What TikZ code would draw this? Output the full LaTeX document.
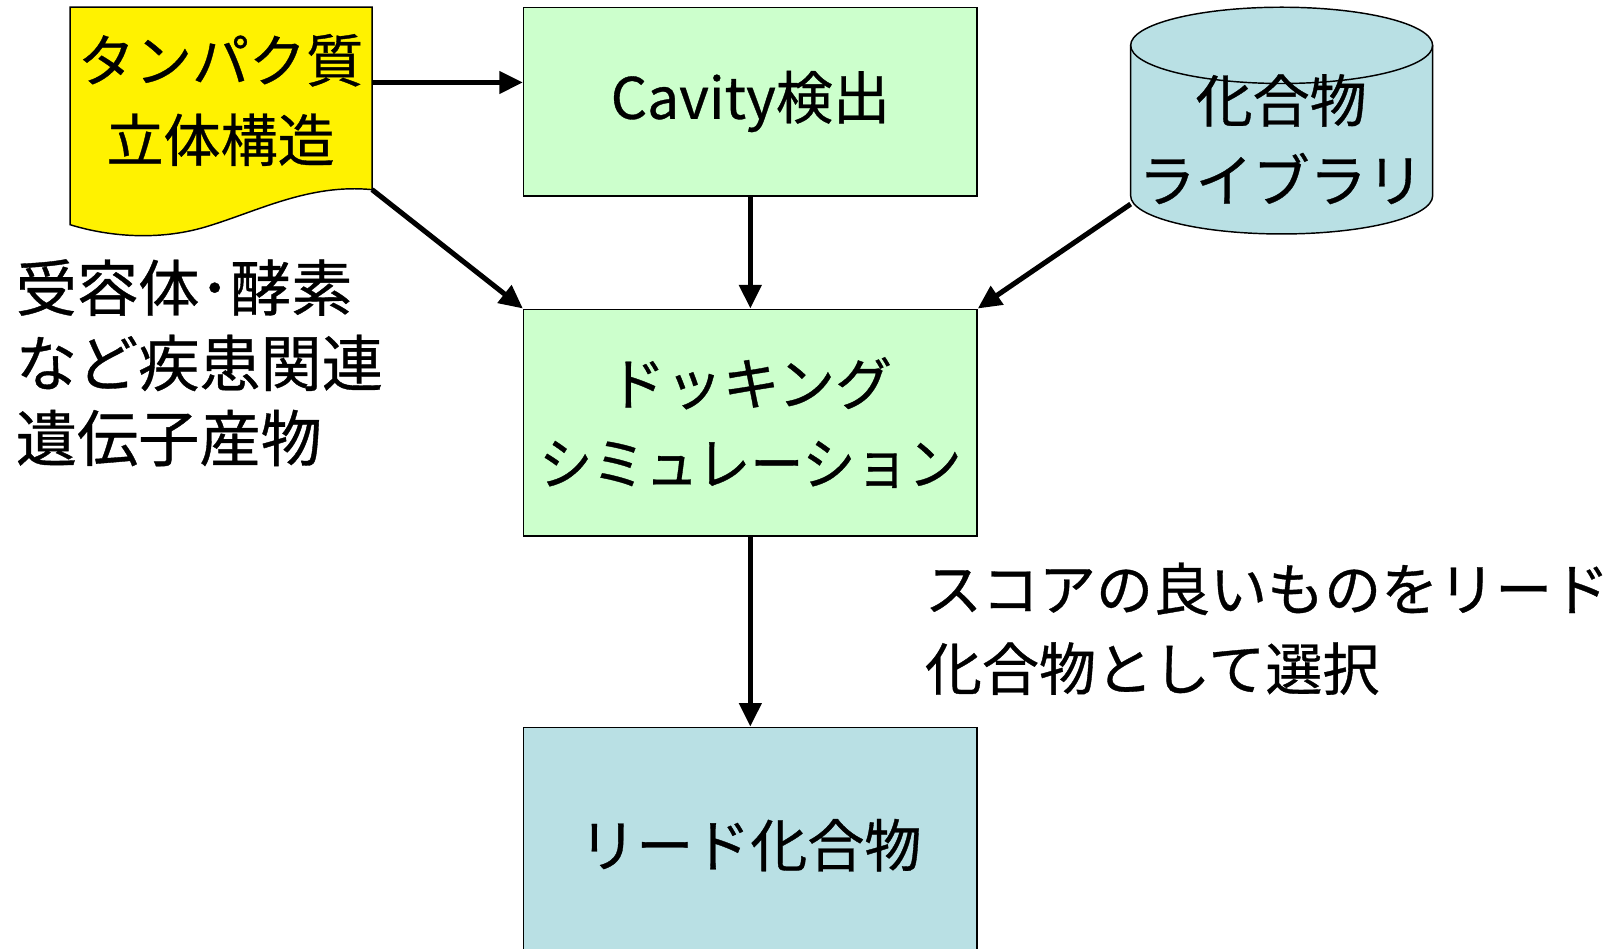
\documentclass[tikz,border=0pt]{standalone}
\usepackage{fontspec}
\setmainfont{Noto Sans CJK JP}[FakeBold=0.6]
\usetikzlibrary{arrows.meta,positioning}
\definecolor{boxgreen}{RGB}{204,255,204}
\definecolor{boxblue}{RGB}{185,224,228}
\newcommand{\jpbig}{\fontsize{31.5}{44}\selectfont}
\newcommand{\jphuge}{\fontsize{33.8}{41.5}\selectfont}

\begin{document}
\begin{tikzpicture}[x=0.02cm, y=-0.02cm,
    box/.style={draw, rectangle, line width=0.8pt, minimum width=8.8cm, inner xsep=0pt, font=\jpbig, align=center},
    note/.style={font=\jpbig, align=left, anchor=west, inner sep=0pt},
    flow/.style={-{Triangle[length=13pt,width=12pt]}, line width=2.8pt}
]
\useasboundingbox (0,0) rectangle (1565,920);
\clip (0,0) rectangle (1565,920);

% Protein structure (document shape)
\draw[fill=yellow, line width=0.8pt] (68,7) -- (361,7) -- (361,184)
    .. controls (300,178) and (250,205) .. (200,220)
    .. controls (150,235) and (100,228) .. (68,218) -- cycle;
\node[font=\jpbig, align=center] (protein) at (214,97) {タンパク質\\立体構造};
\coordinate (protE) at (361,80);
\coordinate (protSE) at (361,184);

% Compound library (cylinder)
\draw[fill=boxblue, line width=0.8pt] (1097,44) -- (1097,190)
    arc[start angle=180, end angle=360, x radius=146.5, y radius=-37]
    -- (1390,44) arc[start angle=0, end angle=180, x radius=146.5, y radius=-37] -- cycle;
\draw[line width=0.8pt] (1097,44) arc[start angle=180, end angle=360, x radius=146.5, y radius=-37];
\node[font=\jpbig, align=center] (library) at (1243,135) {化合物\\ライブラリ};
\coordinate (libSW) at (1097,198);

% Main flow
\node[box, fill=boxgreen, minimum height=3.66cm] (cavity) at (728,98.5) {Cavity検出};
\node[box, fill=boxgreen, minimum height=4.4cm] (docking) at (728,410) {ドッキング\\\scalebox{0.93}[1]{シミュレーション}};
\node[box, fill=boxblue, minimum height=5.2cm, anchor=north] (lead) at (728,705) {};
\node[font=\jpbig] (leadtext) at (728,820) {リード化合物};

% Notes
\node[note, font=\jphuge] (target) at (15,352) {受容体･酵素\\など疾患関連\\遺伝子産物};
\node[note] (select) at (897,610) {スコアの良いものをリード\\化合物として選択};

% Arrows
\draw[flow] (protE) -- (protE -| cavity.west);
\draw[flow] (protSE) -- (docking.north west);
\draw[flow] (cavity.south) -- (docking.north);
\draw[flow] (libSW) -- (docking.north east);
\draw[flow] (docking.south) -- (lead.north);

\end{tikzpicture}
\end{document}
